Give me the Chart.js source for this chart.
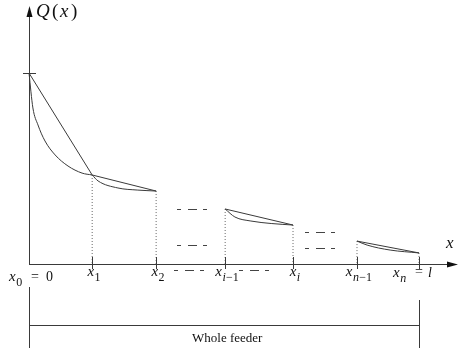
<!DOCTYPE html>
<html>
<head>
<meta charset="utf-8">
<script src="https://cdn.jsdelivr.net/npm/chart.js@4"></script>
<style>
  body { margin: 0; background: #fff; }
  #wrap { width: 458px; height: 348px; position: relative; }
</style>
</head>
<body>
<div id="wrap"><canvas id="feederChart"></canvas></div>
<script>
// node positions along the feeder (x_n = l = 1) and Q at each node
const nodeX = [0, 0.162, 0.326, 0.503, 0.677, 0.841, 1.0];
const nodeQ = [1, 0.466, 0.382, 0.288, 0.204, 0.120, 0.058];
const nodeSub = ["0", "1", "2", "i\u22121", "i", "n\u22121", "n"];
// the sections that are drawn (pairs of node indexes)
const shownSegments = [[0, 1], [1, 2], [3, 4], [5, 6]];
const curveX = [
  [0.010, 0.023, 0.041, 0.067, 0.100, 0.136],
  [0.177, 0.228, 0.279],
  [0.528, 0.569, 0.621],
  [0.867, 0.926]
];
const curveQ = [
  [0.817, 0.728, 0.644, 0.571, 0.513, 0.476],
  [0.435, 0.398, 0.387],
  [0.246, 0.225, 0.212],
  [0.099, 0.073]
];

const lineCol = "#3a3a3a";
const datasets = [];

// chords + real curve for each section
shownSegments.forEach(function (seg, k) {
  const a = seg[0], b = seg[1];
  datasets.push({
    data: [{ x: nodeX[a], y: nodeQ[a] }, { x: nodeX[b], y: nodeQ[b] }],
    borderColor: lineCol, borderWidth: 1, tension: 0
  });
  const pts = [{ x: nodeX[a], y: nodeQ[a] }];
  curveX[k].forEach(function (v, j) { pts.push({ x: v, y: curveQ[k][j] }); });
  pts.push({ x: nodeX[b], y: nodeQ[b] });
  datasets.push({
    data: pts, borderColor: lineCol, borderWidth: 1,
    cubicInterpolationMode: "monotone"
  });
});

// dotted drops from each node to the axis
for (let i = 1; i < nodeX.length; i++) {
  datasets.push({
    data: [{ x: nodeX[i], y: nodeQ[i] }, { x: nodeX[i], y: 0 }],
    borderColor: "#666", borderWidth: 1, borderDash: [1, 2], tension: 0
  });
}

// axes, labels, dash marks and the bracket
const decoPlugin = {
  id: "deco",
  afterDatasetsDraw(chart) {
    const ctx = chart.ctx;
    const xs = chart.scales.x, ys = chart.scales.y;
    const x0 = xs.getPixelForValue(0);
    const ay = ys.getPixelForValue(0);
    ctx.save();
    ctx.strokeStyle = lineCol;
    ctx.fillStyle = "#111";
    ctx.lineWidth = 1;

    function line(x1, y1, x2, y2) {
      ctx.beginPath(); ctx.moveTo(x1, y1); ctx.lineTo(x2, y2); ctx.stroke();
    }
    // y axis with arrow
    line(x0 + 0.5, 16, x0 + 0.5, ay);
    ctx.beginPath(); ctx.moveTo(x0 + 0.5, 6); ctx.lineTo(x0 - 2.5, 17); ctx.lineTo(x0 + 3.5, 17); ctx.closePath(); ctx.fill();
    // x axis with arrow
    line(x0, ay + 0.5, 449, ay + 0.5);
    ctx.beginPath(); ctx.moveTo(458, ay + 0.5); ctx.lineTo(447, ay - 2.5); ctx.lineTo(447, ay + 3.5); ctx.closePath(); ctx.fill();
    // mark of Q(0) on y axis
    const qy = Math.round(ys.getPixelForValue(nodeQ[0])) + 0.5;
    line(x0 - 6, qy, x0 + 7, qy);
    // ticks at nodes
    for (let i = 1; i < nodeX.length; i++) {
      const px = Math.round(xs.getPixelForValue(nodeX[i])) + 0.5;
      line(px, ay - 7, px, ay + 5);
    }

    // "- - -" placeholders
    function dashes(cx, y) {
      y = Math.round(y) + 0.5;
      line(cx - 15, y, cx - 11, y);
      line(cx - 4, y, cx + 5, y);
      line(cx + 11, y, cx + 15, y);
    }
    ctx.strokeStyle = "#444";
    dashes(192, 209); dashes(192, 245);
    dashes(320, 232); dashes(320, 248);
    dashes(189, 270); dashes(254, 270);

    // labels
    const it = "italic 15px 'Liberation Serif', 'DejaVu Serif', serif";
    const subIt = "italic 12px 'Liberation Serif', 'DejaVu Serif', serif";
    const subUp = "12px 'Liberation Serif', 'DejaVu Serif', serif";
    const up = "14px 'Liberation Serif', 'DejaVu Serif', serif";
    ctx.textBaseline = "alphabetic";
    ctx.textAlign = "left";
    // subscript: letters italic, digits and minus upright
    function drawSub(s, sx, base, measureOnly) {
      let cx = sx;
      for (const ch of s) {
        ctx.font = /[a-z]/.test(ch) ? subIt : subUp;
        if (!measureOnly) ctx.fillText(ch, cx, base);
        cx += ctx.measureText(ch).width + (ch === "\u2212" ? 0 : 0.3);
      }
      return cx - sx;
    }
    function xLabel(sx, base, s) {
      ctx.font = it; ctx.fillText("x", sx, base);
      const w = ctx.measureText("x").width;
      drawSub(s, sx + w + 0.5, base + 5, false);
    }
    function labelWidth(s) {
      ctx.font = it; const w = ctx.measureText("x").width;
      return w + 0.5 + drawSub(s, 0, 0, true);
    }
    // x_0 = 0
    xLabel(9, 281, nodeSub[0]);
    ctx.font = up; ctx.fillText("=", x0 + 2, 281); ctx.fillText("0", x0 + 17, 281);
    // middle nodes, centred
    for (let i = 1; i < nodeX.length - 1; i++) {
      const px = xs.getPixelForValue(nodeX[i]);
      const w = labelWidth(nodeSub[i]);
      xLabel(px - w / 2 + 2, 276, nodeSub[i]);
    }
    // x_n = l
    const pn = xs.getPixelForValue(nodeX[nodeX.length - 1]);
    xLabel(pn - 26, 277, nodeSub[nodeX.length - 1]);
    ctx.font = up; ctx.fillText("=", pn - 4, 276);
    ctx.font = "italic 14px 'Liberation Serif', serif"; ctx.fillText("l", pn + 9, 277);

    // x axis name
    ctx.font = "italic 17px 'Liberation Serif', serif";
    ctx.fillText("x", 446, 248);
    // Q(x)
    ctx.font = "italic 19px 'Liberation Serif', serif";
    ctx.fillText("Q", 36, 17);
    ctx.fillText("x", 60, 17);
    ctx.font = "19px 'Liberation Serif', serif";
    ctx.fillText("(", 52, 17);
    ctx.fillText(")", 71, 17);

    // whole feeder bracket
    ctx.strokeStyle = lineCol;
    line(x0 + 0.5, 287, x0 + 0.5, 348);
    line(pn + 0.5, 300, pn + 0.5, 348);
    line(x0, 325.5, pn, 325.5);
    ctx.font = "13px 'Liberation Serif', serif";
    ctx.fillStyle = "#111";
    ctx.fillText("Whole feeder", 192, 342);
    ctx.restore();
  }
};

new Chart(document.getElementById("feederChart").getContext("2d"), {
  type: "scatter",
  data: { datasets: datasets },
  options: {
    responsive: true,
    maintainAspectRatio: false,
    animation: false,
    showLine: true,
    layout: { padding: 0 },
    elements: { point: { radius: 0, hoverRadius: 0 } },
    plugins: { legend: { display: false }, tooltip: { enabled: false } },
    scales: {
      x: { type: "linear", display: false, min: -29 / 390, max: 429 / 390 },
      y: { type: "linear", display: false, min: -84 / 191, max: 264 / 191 }
    }
  },
  plugins: [decoPlugin]
});
</script>
</body>
</html>
